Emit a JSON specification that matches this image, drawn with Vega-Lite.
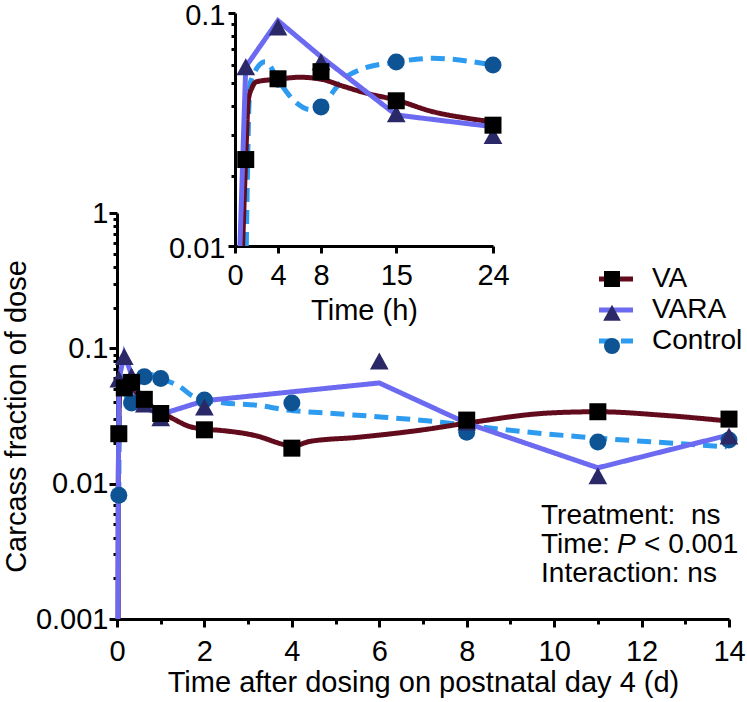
{
"$schema":"https://vega.github.io/schema/vega-lite/v6.json",
"width":612,"height":606,
"autosize":{"type":"none"},
"padding":{"left":117,"top":13,"right":18,"bottom":83},
"config":{
 "view":{"stroke":null},
 "font":"Liberation Sans",
 "axis":{"grid":false,"domainColor":"black","domainWidth":3,"tickColor":"black","tickWidth":3,"labelColor":"black","titleColor":"black","labelFontSize":29,"titleFontSize":29,"titleFontWeight":"normal","labelFont":"Liberation Sans","titleFont":"Liberation Sans","labelFlush":false,"labelOverlap":false,"labelBound":false},
 "legend":{"labelFont":"Liberation Sans","labelFontSize":28,"labelColor":"black"}
},
"datasets":{
 "mainPts":[
  {"g":"Control","t":0.0417,"v":0.0082},{"g":"Control","t":0.1667,"v":0.052},{"g":"Control","t":0.3333,"v":0.0395},{"g":"Control","t":0.625,"v":0.0616},{"g":"Control","t":1,"v":0.0598},{"g":"Control","t":2,"v":0.0415},{"g":"Control","t":4,"v":0.0394},{"g":"Control","t":8,"v":0.024},{"g":"Control","t":11,"v":0.0203},{"g":"Control","t":14,"v":0.021},
  {"g":"VARA","t":0.0417,"v":0.058},{"g":"VARA","t":0.1667,"v":0.085},{"g":"VARA","t":0.3333,"v":0.061},{"g":"VARA","t":0.625,"v":0.038},{"g":"VARA","t":1,"v":0.030},{"g":"VARA","t":2,"v":0.036},{"g":"VARA","t":6,"v":0.079},{"g":"VARA","t":8,"v":0.028},{"g":"VARA","t":11,"v":0.0112},{"g":"VARA","t":14,"v":0.022},
  {"g":"VA","t":0.0417,"v":0.0234},{"g":"VA","t":0.1667,"v":0.051},{"g":"VA","t":0.3333,"v":0.056},{"g":"VA","t":0.625,"v":0.042},{"g":"VA","t":1,"v":0.033},{"g":"VA","t":2,"v":0.025},{"g":"VA","t":4,"v":0.0183},{"g":"VA","t":8,"v":0.0295},{"g":"VA","t":11,"v":0.034},{"g":"VA","t":14,"v":0.030}
 ],
 "mainSmooth":[
  {"g":"Control","t":0.0417,"v":0.0081},{"g":"Control","t":0.05,"v":0.03},{"g":"Control","t":0.058,"v":0.05},{"g":"Control","t":0.117,"v":0.062},{"g":"Control","t":0.167,"v":0.055},{"g":"Control","t":0.24,"v":0.041},{"g":"Control","t":0.333,"v":0.0395},{"g":"Control","t":0.42,"v":0.0516},{"g":"Control","t":0.48,"v":0.057},{"g":"Control","t":0.625,"v":0.0616},{"g":"Control","t":0.77,"v":0.064},{"g":"Control","t":1,"v":0.0598},{"g":"Control","t":1.44,"v":0.052},{"g":"Control","t":1.75,"v":0.044},{"g":"Control","t":2.42,"v":0.0396},{"g":"Control","t":3.2,"v":0.038},{"g":"Control","t":3.9,"v":0.035},{"g":"Control","t":4.95,"v":0.033},{"g":"Control","t":6.1,"v":0.031},{"g":"Control","t":7.4,"v":0.0285},{"g":"Control","t":8,"v":0.027},{"g":"Control","t":9.6,"v":0.0237},{"g":"Control","t":11,"v":0.0217},{"g":"Control","t":12.2,"v":0.0204},{"g":"Control","t":13.95,"v":0.0187},
  {"g":"VA","t":0.027,"v":0.001},{"g":"VA","t":0.029,"v":0.01},{"g":"VA","t":0.042,"v":0.024},{"g":"VA","t":0.052,"v":0.042},{"g":"VA","t":0.083,"v":0.0507},{"g":"VA","t":0.167,"v":0.052},{"g":"VA","t":0.333,"v":0.052},{"g":"VA","t":0.45,"v":0.047},{"g":"VA","t":0.625,"v":0.042},{"g":"VA","t":0.8,"v":0.037},{"g":"VA","t":1,"v":0.034},{"g":"VA","t":1.3,"v":0.030},{"g":"VA","t":1.65,"v":0.0265},{"g":"VA","t":2,"v":0.0253},{"g":"VA","t":2.4,"v":0.0247},{"g":"VA","t":3.2,"v":0.0225},{"g":"VA","t":3.8,"v":0.0195},{"g":"VA","t":4,"v":0.0188},{"g":"VA","t":4.4,"v":0.0205},{"g":"VA","t":5.5,"v":0.022},{"g":"VA","t":7,"v":0.025},{"g":"VA","t":8,"v":0.028},{"g":"VA","t":9.9,"v":0.0333},{"g":"VA","t":11,"v":0.034},{"g":"VA","t":12.5,"v":0.032},{"g":"VA","t":14,"v":0.029}
 ],
 "mainVARA":[
  {"g":"VARA","t":0.02,"v":0.001},{"g":"VARA","t":0.0417,"v":0.0588},{"g":"VARA","t":0.1667,"v":0.09},{"g":"VARA","t":0.333,"v":0.064},{"g":"VARA","t":0.625,"v":0.0365},{"g":"VARA","t":1,"v":0.0325},{"g":"VARA","t":2,"v":0.041},{"g":"VARA","t":6,"v":0.0555},{"g":"VARA","t":8,"v":0.028},{"g":"VARA","t":11,"v":0.0131},{"g":"VARA","t":14,"v":0.0229}
 ],
 "insetPts":[
  {"g":"Control","t":4,"v":0.052},{"g":"Control","t":8,"v":0.0395},{"g":"Control","t":15,"v":0.0616},{"g":"Control","t":24,"v":0.0598},
  {"g":"VARA","t":1,"v":0.058},{"g":"VARA","t":4,"v":0.086},{"g":"VARA","t":8,"v":0.061},{"g":"VARA","t":15,"v":0.0365},{"g":"VARA","t":24,"v":0.0294},
  {"g":"VA","t":1,"v":0.0235},{"g":"VA","t":4,"v":0.0522},{"g":"VA","t":8,"v":0.056},{"g":"VA","t":15,"v":0.042},{"g":"VA","t":24,"v":0.033}
 ],
 "insetSmooth":[
  {"g":"Control","t":1.05,"v":0.01},{"g":"Control","t":1.4,"v":0.05},{"g":"Control","t":2.8,"v":0.0617},{"g":"Control","t":4.2,"v":0.05},{"g":"Control","t":5.5,"v":0.042},{"g":"Control","t":7,"v":0.0385},{"g":"Control","t":8,"v":0.0395},{"g":"Control","t":8.5,"v":0.042},{"g":"Control","t":10,"v":0.0516},{"g":"Control","t":11.6,"v":0.057},{"g":"Control","t":15,"v":0.0616},{"g":"Control","t":18.4,"v":0.0639},{"g":"Control","t":24,"v":0.0598},
  {"g":"VA","t":0.71,"v":0.01},{"g":"VA","t":1,"v":0.024},{"g":"VA","t":1.24,"v":0.0423},{"g":"VA","t":1.6,"v":0.048},{"g":"VA","t":2,"v":0.0507},{"g":"VA","t":4,"v":0.052},{"g":"VA","t":6,"v":0.053},{"g":"VA","t":8,"v":0.052},{"g":"VA","t":10,"v":0.0486},{"g":"VA","t":12.2,"v":0.0453},{"g":"VA","t":15,"v":0.0423},{"g":"VA","t":18.4,"v":0.0377},{"g":"VA","t":21.5,"v":0.0354},{"g":"VA","t":24,"v":0.0341}
 ],
 "insetVARA":[
  {"g":"VARA","t":0.46,"v":0.01},{"g":"VARA","t":1,"v":0.0588},{"g":"VARA","t":4,"v":0.0927},{"g":"VARA","t":8,"v":0.0649},{"g":"VARA","t":15,"v":0.0365},{"g":"VARA","t":24,"v":0.0325}
 ],
 "notes":[
  {"s":"Treatment:\u00a0 ns","row":"a"},{"s":"Time:","row":"b"},{"s":"P","row":"p"},{"s":"< 0.001","row":"c"},{"s":"Interaction: ns","row":"d"}
 ]
},
"resolve":{"scale":{"x":"independent","y":"independent"}},
"layer":[
 {
  "layer":[
   {
    "encoding":{
     "x":{"field":"t","type":"quantitative","scale":{"domain":[0,14],"nice":false,"zero":false},
          "axis":{"orient":"bottom","title":"Time after dosing on postnatal day 4 (d)","values":[0,1,2,3,4,5,6,7,8,9,10,11,12,13,14],"labelExpr":"datum.value % 2 == 0 ? datum.label : ''","tickSize":{"condition":{"test":"datum.value % 2 == 0","value":8},"value":5},"labelPadding":10,"titlePadding":2}},
     "y":{"field":"v","type":"quantitative","scale":{"type":"log","domain":[0.001,1],"range":[606,200],"nice":false},
          "axis":{"orient":"left","title":"Carcass fraction of dose","values":[0.001,0.002,0.003,0.004,0.005,0.006,0.007,0.008,0.009,0.01,0.02,0.03,0.04,0.05,0.06,0.07,0.08,0.09,0.1,0.2,0.3,0.4,0.5,0.6,0.7,0.8,0.9,1],"format":"~g","labelExpr":"abs(log(datum.value)/LN10 - round(log(datum.value)/LN10)) < 0.001 ? datum.label : ''","tickSize":{"condition":{"test":"abs(log(datum.value)/LN10 - round(log(datum.value)/LN10)) < 0.001","value":8},"value":4},"labelPadding":1,"titlePadding":4}}
    },
    "layer":[
     {"data":{"name":"mainSmooth"},"mark":{"type":"line","interpolate":"monotone","strokeWidth":5},
      "encoding":{
       "stroke":{"field":"g","type":"nominal","scale":{"domain":["VA","VARA","Control"],"range":["#620b1d","#6b6af0","#2d9cf0"]},"legend":{"title":null,"orient":"none","legendX":485,"legendY":252,"symbolType":"M-2,0L2,0","symbolSize":289,"symbolStrokeWidth":5,"labelOffset":22,"padding":0,"rowPadding":3,"labelFontSize":28}},
       "strokeDash":{"field":"g","type":"nominal","scale":{"domain":["VA","VARA","Control"],"range":[[1,0],[1,0],[14,8]]},"legend":{"title":null,"orient":"none","legendX":485,"legendY":252,"symbolType":"M-2,0L2,0","symbolSize":289,"symbolStrokeWidth":5,"labelOffset":22,"padding":0,"rowPadding":3,"labelFontSize":28}}
      }},
     {"data":{"name":"mainVARA"},"mark":{"type":"line","strokeWidth":5},
      "encoding":{
       "stroke":{"field":"g","type":"nominal"},
       "strokeDash":{"field":"g","type":"nominal"}
      }},
     {"data":{"name":"mainPts"},"mark":{"type":"point","filled":true,"size":289,"opacity":1,"strokeWidth":0},
      "encoding":{
       "fill":{"field":"g","type":"nominal","scale":{"domain":["Control","VA","VARA"],"range":["#0e5495","#000000","#2a2867"]},"legend":{"title":null,"orient":"none","legendX":487,"legendY":258,"values":["VA","VARA","Control"],"symbolSize":256,"symbolStrokeWidth":0,"labelExpr":"''","labelOffset":0,"padding":0,"rowPadding":17,"labelFontSize":1}},
       "shape":{"field":"g","type":"nominal","scale":{"domain":["Control","VA","VARA"],"range":["circle","square","M0,-1.15L1.1,0.85L-1.1,0.85Z"]},"legend":{"title":null,"orient":"none","legendX":487,"legendY":258,"values":["VA","VARA","Control"],"symbolSize":256,"symbolStrokeWidth":0,"labelExpr":"''","labelOffset":0,"padding":0,"rowPadding":17,"labelFontSize":1}}
      }}
    ]
   },
   {"data":{"name":"notes"},"transform":[{"filter":"datum.row == 'a'"}],"mark":{"type":"text","align":"left","baseline":"alphabetic","fontSize":28,"fill":"black"},
    "encoding":{"x":{"datum":9.7,"type":"quantitative"},"y":{"datum":0.00501,"type":"quantitative"},"text":{"field":"s","type":"nominal"}}},
   {"data":{"name":"notes"},"transform":[{"filter":"datum.row == 'b'"}],"mark":{"type":"text","align":"left","baseline":"alphabetic","fontSize":28,"fill":"black"},
    "encoding":{"x":{"datum":9.7,"type":"quantitative"},"y":{"datum":0.00309,"type":"quantitative"},"text":{"field":"s","type":"nominal"}}},
   {"data":{"name":"notes"},"transform":[{"filter":"datum.row == 'p'"}],"mark":{"type":"text","align":"left","baseline":"alphabetic","fontSize":28,"fill":"black","fontStyle":"italic","dx":76},
    "encoding":{"x":{"datum":9.7,"type":"quantitative"},"y":{"datum":0.00309,"type":"quantitative"},"text":{"field":"s","type":"nominal"}}},
   {"data":{"name":"notes"},"transform":[{"filter":"datum.row == 'c'"}],"mark":{"type":"text","align":"left","baseline":"alphabetic","fontSize":28,"fill":"black","dx":103},
    "encoding":{"x":{"datum":9.7,"type":"quantitative"},"y":{"datum":0.00309,"type":"quantitative"},"text":{"field":"s","type":"nominal"}}},
   {"data":{"name":"notes"},"transform":[{"filter":"datum.row == 'd'"}],"mark":{"type":"text","align":"left","baseline":"alphabetic","fontSize":28,"fill":"black"},
    "encoding":{"x":{"datum":9.7,"type":"quantitative"},"y":{"datum":0.00187,"type":"quantitative"},"text":{"field":"s","type":"nominal"}}}
  ]
 },
 {
  "encoding":{
   "x":{"field":"t","type":"quantitative","scale":{"domain":[0,24],"range":[118,376],"nice":false,"zero":false},
        "axis":{"orient":"bottom","offset":-373,"title":"Time (h)","values":[0,4,8,15,24],"tickSize":7,"labelPadding":8,"titlePadding":6}},
   "y":{"field":"v","type":"quantitative","scale":{"type":"log","domain":[0.01,0.1],"range":[233,0],"nice":false},
        "axis":{"orient":"left","offset":-118,"title":null,"values":[0.01,0.02,0.03,0.04,0.05,0.06,0.07,0.08,0.09,0.1],"format":"~g","labelExpr":"abs(log(datum.value)/LN10 - round(log(datum.value)/LN10)) < 0.001 ? datum.label : ''","tickSize":{"condition":{"test":"abs(log(datum.value)/LN10 - round(log(datum.value)/LN10)) < 0.001","value":7},"value":4},"labelPadding":3,"labelOffset":2}}
  },
  "layer":[
   {"data":{"name":"insetSmooth"},"mark":{"type":"line","interpolate":"monotone","strokeWidth":5},
    "encoding":{"stroke":{"field":"g","type":"nominal"},"strokeDash":{"field":"g","type":"nominal"}}},
   {"data":{"name":"insetVARA"},"mark":{"type":"line","strokeWidth":5},
    "encoding":{"stroke":{"field":"g","type":"nominal"},"strokeDash":{"field":"g","type":"nominal"}}},
   {"data":{"name":"insetPts"},"mark":{"type":"point","filled":true,"size":289,"opacity":1,"strokeWidth":0},
    "encoding":{"fill":{"field":"g","type":"nominal"},"shape":{"field":"g","type":"nominal"}}}
  ]
 }
]
}
